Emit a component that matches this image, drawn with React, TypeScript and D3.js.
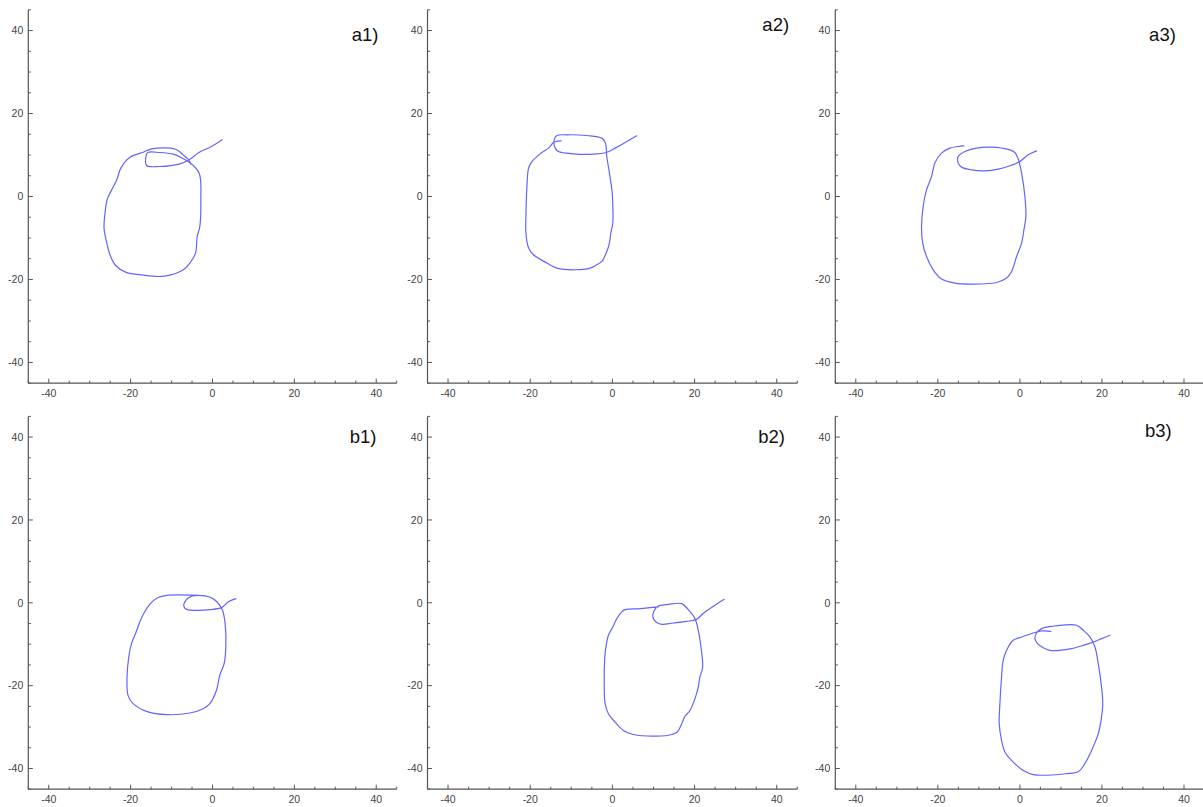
import React from "react";
import * as d3 from "d3";

// Pen trajectories, one per trial, in plot units [x, y]
const trialA1: [number, number][] = [
  [2.36, 13.65], [-0.24, 12.05], [-3.33, 10.6], [-5.53, 9.0], [-7.97, 7.87], [-13.0, 7.23],
  [-16.1, 7.47], [-16.26, 9.64], [-15.85, 10.6], [-12.85, 10.6], [-9.6, 10.2], [-7.3, 9.24],
  [-5.37, 8.03], [-3.25, 5.62], [-2.85, -0.8], [-3.1, -7.23], [-3.74, -9.64], [-4.15, -13.65],
  [-5.53, -16.06], [-7.15, -17.67], [-10.4, -18.96], [-13.25, -19.28], [-16.9, -18.96],
  [-21.1, -18.3], [-23.66, -16.63], [-25.04, -14.06], [-26.0, -10.44], [-26.5, -7.63],
  [-26.26, -4.0], [-25.7, -0.64], [-24.63, 1.6], [-23.4, 4.0], [-22.4, 6.83], [-20.16, 9.48],
  [-16.9, 10.68], [-14.88, 11.49], [-9.02, 11.4], [-7.15, 10.04], [-5.7, 8.67], [-5.37, 7.87],
];

const trialA2: [number, number][] = [
  [5.93, 14.63], [3.5, 13.25], [0.66, 11.66], [-1.53, 10.6], [-4.62, 10.2], [-9.48, 10.29],
  [-13.12, 10.84], [-13.92, 11.66], [-14.17, 13.66], [-13.5, 14.7], [-11.08, 14.87],
  [-6.22, 14.7], [-2.58, 14.07], [-1.7, 12.87], [-1.36, 9.64], [-0.73, 5.64], [-0.07, 1.2],
  [0.1, -2.4], [0.1, -6.4], [-0.39, -8.8], [-0.73, -11.23], [-1.36, -13.25], [-2.58, -15.66],
  [-3.8, -16.46], [-5.42, -17.25], [-9.06, -17.66], [-13.5, -17.25], [-15.95, -16.05],
  [-19.2, -14.05], [-20.4, -12.43], [-21.05, -8.8], [-21.05, -4.82], [-20.8, 2.41],
  [-20.4, 6.84], [-19.6, 8.43], [-17.57, 10.29], [-15.55, 11.66], [-14.34, 13.0],
  [-13.36, 13.35], [-12.47, 13.42],
];

const trialA3: [number, number][] = [
  [4.07, 11.0], [2.02, 10.05], [0, 8.43], [-2.44, 7.4], [-5.28, 6.6], [-8.54, 6.19],
  [-11.8, 6.43], [-14.2, 7.08], [-15.04, 8.05], [-15.04, 9.64], [-13.4, 10.84],
  [-10.57, 11.66], [-7.3, 11.9], [-2.44, 11.25], [-1.22, 10.6], [-0.41, 9.04], [0.41, 5.64],
  [1.22, 0], [1.46, -4.82], [0.98, -8.03], [0.41, -11.23], [-0.81, -14.46], [-2.02, -18.07],
  [-3.24, -19.66], [-5.68, -20.72], [-11.38, -21.1], [-15.85, -20.88], [-19.1, -19.9],
  [-21.14, -17.67], [-22.76, -14.46], [-23.7, -11.23], [-23.98, -7.23], [-23.58, -2.41],
  [-22.76, 1.6], [-21.54, 4.82], [-20.73, 8.05], [-19.1, 10.44], [-17.07, 11.66],
  [-15.04, 12.05], [-13.66, 12.2],
];

const trialB1: [number, number][] = [
  [5.7, 1.0], [3.81, 0.2], [2.2, -1.16], [-0.66, -1.64], [-3.91, -1.81], [-6.2, -1.64],
  [-7.0, -0.85], [-6.52, 0.6], [-5.13, 1.57], [-3.52, 1.81], [-0.66, 1.4], [1.12, 0.2],
  [2.44, -1.81], [3.08, -5.02], [3.25, -10.68], [2.84, -14.7], [1.78, -17.5], [0.98, -21.1],
  [-0.66, -24.35], [-2.3, -25.56], [-5.55, -26.6], [-11.25, -27.0], [-16.14, -26.2],
  [-19.4, -24.35], [-20.64, -22.35], [-20.88, -17.9], [-20.46, -13.1], [-19.8, -9.86],
  [-18.75, -7.29], [-17.77, -4.64], [-16.8, -2.6], [-15.33, -0.36], [-13.3, 1.26],
  [-11.25, 1.81], [-3.76, 1.81],
];

const trialB2: [number, number][] = [
  [27.2, 0.85], [24.95, -0.6], [22.53, -2.2], [20.34, -4.06], [18.08, -4.47], [14.82, -4.87],
  [12.0, -5.19], [10.62, -4.63], [9.82, -3.42], [10.13, -1.98], [11.18, -0.77], [13.22, -0.44],
  [16.86, -0.2], [18.47, -1.65], [20.1, -3.82], [20.9, -6.64], [21.55, -10.68], [21.97, -15.5],
  [21.3, -17.9], [20.9, -20.3], [20.1, -23.14], [18.88, -26.0], [17.67, -27.4], [16.86, -29.2],
  [15.8, -31.2], [14.43, -31.8], [10.79, -32.2], [5.1, -31.8], [2.67, -30.8], [0.66, -28.8],
  [-0.97, -26.8], [-1.77, -24.35], [-2.0, -19.5], [-1.85, -13.1], [-1.53, -10.27],
  [-0.97, -7.85], [0.1, -5.85], [1.07, -3.82], [2.28, -2.2], [3.09, -1.65], [6.73, -1.4],
  [11.18, -1.0],
];

const trialB3: [number, number][] = [
  [21.95, -7.85], [19.9, -8.65], [17.9, -9.46], [15.45, -10.27], [12.6, -11.06], [9.76, -11.47],
  [7.32, -11.47], [5.69, -10.83], [4.3, -9.86], [3.66, -8.65], [4.07, -7.3], [5.28, -6.24],
  [7.72, -5.68], [13.8, -5.43], [15.45, -6.64], [17.07, -8.25], [18.3, -10.68], [19.1, -14.7],
  [19.9, -20.3], [20.2, -24.35], [19.9, -27.6], [19.1, -31.6], [17.5, -35.6], [15.85, -38.8],
  [14.2, -40.8], [11.38, -41.25], [3.25, -41.5], [0.81, -40.46], [-1.63, -38.45],
  [-3.66, -36.0], [-4.47, -33.2], [-5.04, -29.2], [-4.88, -24.35], [-4.47, -17.9],
  [-4.07, -13.9], [-3.25, -11.47], [-1.63, -9.06], [0.41, -8.25], [3.25, -7.3], [5.28, -6.8],
  [7.56, -6.88],
];

const panelLabels = ["a1)", "a2)", "a3)", "b1)", "b2)", "b3)"];
const trials = [trialA1, trialA2, trialA3, trialB1, trialB2, trialB3];
// label anchor in plot units
const labelPos: [number, number][] = [
  [34, 37.5], [36.5, 40], [31.5, 37.5], [33.5, 38.5], [35.5, 38.5], [30.5, 40],
];

const majorTicks = [-40, -20, 0, 20, 40];
const minorTicks = d3.range(-45, 46, 5).filter((v) => !majorTicks.includes(v));
const domain: [number, number] = [-45, 45];

// pixel extents of each panel's frame
const colExtents: [number, number][] = [
  [28.3, 396.7],
  [427.5, 797.3],
  [835.3, 1204.5],
];
const rowExtents: [number, number][] = [
  [383.2, 9.8],
  [789.2, 416.4],
];

const axisColor = "#555";
const textColor = "#444";
const lineColor = "#6464ff";

function Panel({ index }: { index: number }) {
  const col = index % 3;
  const row = Math.floor(index / 3);
  const x = d3.scaleLinear().domain(domain).range(colExtents[col]);
  const y = d3.scaleLinear().domain(domain).range(rowExtents[row]);
  const line = d3
    .line<[number, number]>()
    .x((d) => x(d[0]))
    .y((d) => y(d[1]))
    .curve(d3.curveCatmullRom.alpha(0.5));
  const x0 = x(-45);
  const y0 = y(-45);
  const font = "'Liberation Sans', Arial, sans-serif";
  return (
    <g>
      {/* frame axes */}
      <line x1={x0} x2={x(45)} y1={y0} y2={y0} stroke={axisColor} strokeWidth={1.2} />
      <line x1={x0} x2={x0} y1={y0} y2={y(45)} stroke={axisColor} strokeWidth={1.2} />
      {majorTicks.map((t) => (
        <g key={"mx" + t}>
          <line x1={x(t)} x2={x(t)} y1={y0} y2={y0 - 4.5} stroke={axisColor} strokeWidth={1} />
          <text x={x(t)} y={y0 + 14} textAnchor="middle" fontFamily={font} fontSize={10.5} fill={textColor}>
            {t < 0 ? "-" + Math.abs(t) : String(t)}
          </text>
          <line x1={x0} x2={x0 + 4.5} y1={y(t)} y2={y(t)} stroke={axisColor} strokeWidth={1} />
          <text x={x0 - 5} y={y(t) + 3.7} textAnchor="end" fontFamily={font} fontSize={10.5} fill={textColor}>
            {t < 0 ? "-" + Math.abs(t) : String(t)}
          </text>
        </g>
      ))}
      {minorTicks.map((t) => (
        <g key={"mn" + t}>
          <line x1={x(t)} x2={x(t)} y1={y0} y2={y0 - 2.5} stroke={axisColor} strokeWidth={1} />
          <line x1={x0} x2={x0 + 2.5} y1={y(t)} y2={y(t)} stroke={axisColor} strokeWidth={1} />
        </g>
      ))}
      <path d={line(trials[index]) ?? ""} fill="none" stroke={lineColor} strokeWidth={1.2} strokeLinejoin="round" strokeLinecap="round" />
      <text
        x={x(labelPos[index][0])}
        y={y(labelPos[index][1])}
        fontFamily={font}
        fontSize={18.5}
        fill="#111"
      >
        {panelLabels[index]}
      </text>
    </g>
  );
}

export default function App() {
  return (
    <svg
      width={1203}
      height={807}
      style={{ position: "absolute", left: 0, top: 0, background: "#fff" }}
    >
      <rect width={1203} height={807} fill="#fff" />
      {panelLabels.map((_, i) => (
        <Panel key={i} index={i} />
      ))}
    </svg>
  );
}
